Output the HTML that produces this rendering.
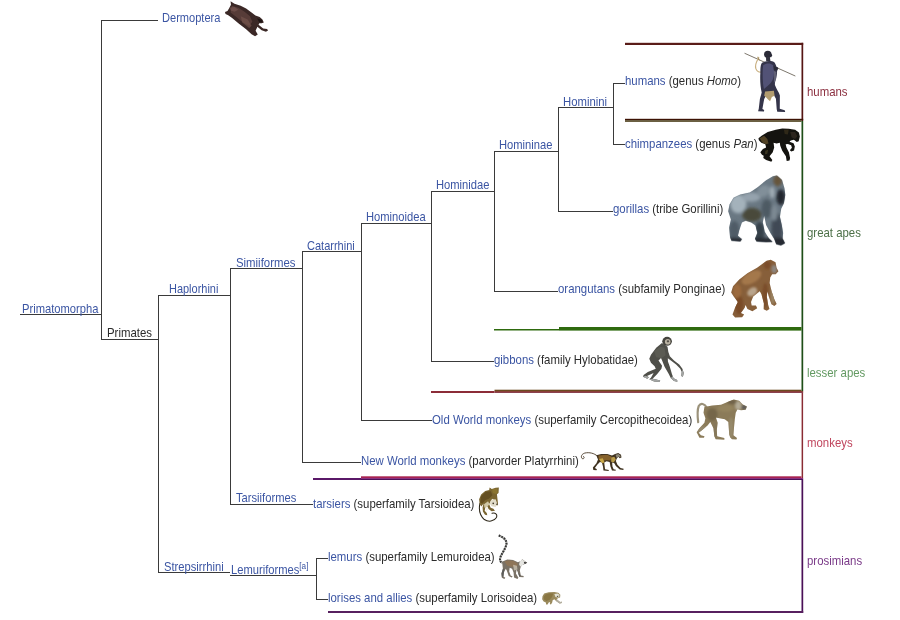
<!DOCTYPE html>
<html><head><meta charset="utf-8"><title>Primate cladogram</title>
<style>
html,body{margin:0;padding:0;background:#fff;}
#c{position:relative;width:900px;height:620px;overflow:hidden;background:#fff;font-family:"Liberation Sans",Arial,sans-serif;font-size:13px;color:#2b2b2b;}
.h,.v,.r{position:absolute;background:#3a3a3a;}
.h{height:1px}.v{width:1px}
.t{position:absolute;white-space:nowrap;line-height:14px;height:14px;transform:scaleX(0.877);transform-origin:0 0;}
.t a{color:#3b55a3;text-decoration:none}
.t sup{font-size:9.5px;line-height:0;vertical-align:5px}
svg{position:absolute;overflow:visible}
</style></head><body><div id="c">

<div class="h" style="left:101px;top:20px;width:57px"></div>
<div class="h" style="left:20px;top:314px;width:82px"></div>
<div class="h" style="left:101px;top:339px;width:58px"></div>
<div class="h" style="left:158px;top:295px;width:73px"></div>
<div class="h" style="left:230px;top:268px;width:72px"></div>
<div class="h" style="left:302px;top:251px;width:60px"></div>
<div class="h" style="left:361px;top:223px;width:71px"></div>
<div class="h" style="left:431px;top:191px;width:64px"></div>
<div class="h" style="left:494px;top:151px;width:65px"></div>
<div class="h" style="left:558px;top:107px;width:56px"></div>
<div class="h" style="left:613px;top:83px;width:12px"></div>
<div class="h" style="left:613px;top:144px;width:12px"></div>
<div class="h" style="left:558px;top:211px;width:55px"></div>
<div class="h" style="left:494px;top:291px;width:64px"></div>
<div class="h" style="left:431px;top:361px;width:63px"></div>
<div class="h" style="left:361px;top:420px;width:71px"></div>
<div class="h" style="left:302px;top:462px;width:59px"></div>
<div class="h" style="left:230px;top:504px;width:83px"></div>
<div class="h" style="left:158px;top:572px;width:72px"></div>
<div class="h" style="left:230px;top:575px;width:87px"></div>
<div class="h" style="left:316px;top:558px;width:12px"></div>
<div class="h" style="left:316px;top:599px;width:12px"></div>
<div class="v" style="left:101px;top:20px;height:320px"></div>
<div class="v" style="left:158px;top:295px;height:278px"></div>
<div class="v" style="left:230px;top:268px;height:237px"></div>
<div class="v" style="left:302px;top:251px;height:212px"></div>
<div class="v" style="left:361px;top:223px;height:198px"></div>
<div class="v" style="left:431px;top:191px;height:171px"></div>
<div class="v" style="left:494px;top:151px;height:141px"></div>
<div class="v" style="left:558px;top:107px;height:105px"></div>
<div class="v" style="left:613px;top:83px;height:62px"></div>
<div class="v" style="left:316px;top:558px;height:42px"></div>
<svg style="left:0;top:0" width="900" height="620" viewBox="0 0 900 620">
<rect x="625" y="42.8" width="178.2" height="2.2" fill="#5a1c18"/>
<rect x="801.5" y="42.8" width="1.7" height="78.2" fill="#561614"/>
<rect x="625" y="118.8" width="178.2" height="1.5" fill="#3c1204"/>
<rect x="625" y="120.3" width="176.5" height="1.5" fill="#483a14"/>
<rect x="801.5" y="121" width="1.7" height="270" fill="#1f4f18"/>
<rect x="494" y="329" width="65" height="1.5" fill="#2e6a0e"/>
<rect x="559" y="327" width="242.5" height="3.6" fill="#2e6a0e"/>
<rect x="494.5" y="389.7" width="307" height="1.3" fill="#6a4a20"/>
<rect x="431" y="391" width="63.5" height="2" fill="#8c2c38"/>
<rect x="494.5" y="391" width="308.7" height="1" fill="#8a4038"/>
<rect x="494.5" y="392" width="308.7" height="0.9" fill="#7e2c3a"/>
<rect x="801.6" y="393" width="1.5" height="85" fill="#8a2c34"/>
<rect x="361" y="476.3" width="440.5" height="1.7" fill="#a82452"/>
<rect x="313" y="478" width="48" height="2" fill="#5a1868"/>
<rect x="361" y="478" width="442.2" height="1" fill="#8a3080"/>
<rect x="361" y="479" width="442.2" height="1" fill="#4a1058"/>
<rect x="801.5" y="480" width="1.7" height="133" fill="#4a1058"/>
<rect x="328" y="611" width="475.2" height="2" fill="#57205f"/>
</svg>
<div class="t" style="left:162px;top:11px;transform:scaleX(0.851)"><a>Dermoptera</a></div>
<div class="t" style="left:22px;top:302px;transform:scaleX(0.86)"><a>Primatomorpha</a></div>
<div class="t" style="left:107px;top:326px;transform:scaleX(0.877)">Primates</div>
<div class="t" style="left:169px;top:282px;transform:scaleX(0.843)"><a>Haplorhini</a></div>
<div class="t" style="left:236px;top:256px;transform:scaleX(0.875)"><a>Simiiformes</a></div>
<div class="t" style="left:307px;top:239px;transform:scaleX(0.847)"><a>Catarrhini</a></div>
<div class="t" style="left:366px;top:210px;transform:scaleX(0.86)"><a>Hominoidea</a></div>
<div class="t" style="left:436px;top:178px;transform:scaleX(0.86)"><a>Hominidae</a></div>
<div class="t" style="left:499px;top:138px;transform:scaleX(0.86)"><a>Homininae</a></div>
<div class="t" style="left:563px;top:95px;transform:scaleX(0.87)"><a>Hominini</a></div>
<div class="t" style="left:236px;top:491px;transform:scaleX(0.86)"><a>Tarsiiformes</a></div>
<div class="t" style="left:164px;top:560px;transform:scaleX(0.86)"><a>Strepsirrhini</a></div>
<div class="t" style="left:231px;top:563px;transform:scaleX(0.86)"><a>Lemuriformes<sup>[a]</sup></a></div>
<div class="t" style="left:625px;top:74px"><a>humans</a> (genus <i>Homo</i>)</div>
<div class="t" style="left:625px;top:137px"><a>chimpanzees</a> (genus <i>Pan</i>)</div>
<div class="t" style="left:613px;top:202px"><a>gorillas</a> (tribe Gorillini)</div>
<div class="t" style="left:558px;top:282px"><a>orangutans</a> (subfamily Ponginae)</div>
<div class="t" style="left:494px;top:353px"><a>gibbons</a> (family Hylobatidae)</div>
<div class="t" style="left:432px;top:413px"><a>Old World monkeys</a> (superfamily Cercopithecoidea)</div>
<div class="t" style="left:361px;top:454px"><a>New World monkeys</a> (parvorder Platyrrhini)</div>
<div class="t" style="left:313px;top:497px"><a>tarsiers</a> (superfamily Tarsioidea)</div>
<div class="t" style="left:328px;top:550px"><a>lemurs</a> (superfamily Lemuroidea)</div>
<div class="t" style="left:328px;top:591px"><a>lorises and allies</a> (superfamily Lorisoidea)</div>
<div class="t" style="left:807px;top:85px;color:#8c3040">humans</div>
<div class="t" style="left:807px;top:226px;color:#4d7048">great apes</div>
<div class="t" style="left:807px;top:366px;color:#639a62">lesser apes</div>
<div class="t" style="left:807px;top:436px;color:#c0465e">monkeys</div>
<div class="t" style="left:807px;top:554px;color:#7a3a88">prosimians</div>
<svg style="left:215px;top:0px" width="70" height="45" viewBox="0 0 900 579">
<path d="M200,15 L250,48 L330,75 L400,108 L470,160 L520,200 L575,218 L610,250 L628,290 L600,300 L570,298 L560,320 L620,368 L670,372 L682,392 L655,408 L600,388 L545,345 L522,395 L550,445 L515,468 L470,440 L400,375 L300,300 L220,230 L170,195 L135,180 L128,155 L160,140 L180,110 L205,62 Z" fill="#3b2826"/>
<path d="M215,75 L300,100 L380,150 L450,210 L480,280 L440,330 L360,290 L270,215 L200,160 Z" fill="#5d403c" opacity="0.85"/>
<path d="M330,210 L420,250 L470,330 L440,360 L350,290 Z" fill="#7a5850" opacity="0.6"/>
<path d="M190,95 L250,90 L300,125 L250,150 L200,135 Z" fill="#7d5a55" opacity="0.6"/>
<path d="M540,235 L600,255 L612,285 L570,285 Z" fill="#1e1514"/>
</svg>
<svg style="left:740px;top:46px" width="60" height="70" viewBox="0 0 531 620">
<defs><filter id="b2" x="-20%" y="-20%" width="140%" height="140%"><feGaussianBlur stdDeviation="7"/></filter></defs>
<path d="M40,64 L490,266" stroke="#5a5246" stroke-width="7" fill="none"/>
<path d="M168,100 C150,130 128,160 140,200 C150,228 175,238 192,228" stroke="#c9b081" stroke-width="10" fill="none"/>
<path d="M156,96 L172,128" stroke="#a89060" stroke-width="9"/>
<ellipse cx="246" cy="74" rx="33" ry="33" fill="#2b2b38"/>
<path d="M268,60 L286,82 L276,100 L262,98 Z" fill="#2b2b38"/>
<path d="M230,98 L264,98 L270,135 L232,135 Z" fill="#32323f"/>
<path d="M190,155 C210,130 282,124 306,146 C326,176 334,215 324,268 C320,300 304,322 310,348 C322,384 346,410 353,438 L352,556 L396,568 L400,584 L330,583 L325,560 L318,468 L296,428 L264,412 L236,430 L214,470 L198,558 L214,566 L212,581 L160,579 L166,555 L176,470 L192,412 C180,360 176,300 180,240 C180,200 180,180 190,155 Z" fill="#34344a"/>
<g filter="url(#b2)">
<path d="M205,170 C235,150 270,150 292,170 C305,210 305,250 290,300 C270,340 240,360 212,380 C200,320 196,235 205,170 Z" fill="#55557a" opacity="0.9"/>
<path d="M300,220 L322,230 L318,300 L300,330 Z" fill="#6a6a80" opacity="0.8"/>
</g>
<path d="M222,402 L300,396 L306,440 L282,452 L266,490 L246,472 L232,456 L214,440 Z" fill="#b29c70"/>
<path d="M298,178 L338,190 L333,216 L298,210 Z" fill="#2a2a38"/>
</svg>
<svg style="left:750px;top:120px" width="60" height="50" viewBox="0 0 744 620">
<defs><filter id="b3" x="-10%" y="-10%" width="120%" height="120%"><feGaussianBlur stdDeviation="5"/></filter></defs>
<path d="M105,225 L140,198 L220,150 L320,120 L400,104 L480,108 L560,122 L606,155 L618,205 L604,262 L580,272 L545,245 L505,255 L490,270 L540,288 L556,330 L546,378 L512,392 L494,376 L520,345 L510,312 L470,297 L442,302 L452,340 L482,400 L497,470 L490,502 L455,507 L445,450 L400,380 L375,320 L370,282 L330,292 L292,282 L300,340 L282,400 L242,450 L277,495 L265,517 L200,497 L165,470 L170,442 L148,430 L128,400 L160,360 L200,340 L190,300 L140,282 L110,252 Z" fill="#14130f"/>
<path d="M120,225 L175,195 L215,235 L230,290 L195,300 L150,275 Z" fill="#5e4e2c" opacity="0.8" filter="url(#b3)"/>
<path d="M420,120 L480,118 L470,180 L430,175 Z" fill="#3a301c" opacity="0.7" filter="url(#b3)"/>
<path d="M500,150 L560,150 L585,200 L560,235 L515,215 Z" fill="#332c20" opacity="0.8" filter="url(#b3)"/>
<path d="M190,380 L225,370 L215,420 L185,425 Z" fill="#4a4228" opacity="0.7" filter="url(#b3)"/>
</svg>
<svg style="left:720px;top:168px" width="90" height="84" viewBox="0 0 664 620">
<defs><filter id="b4" x="-20%" y="-20%" width="140%" height="140%"><feGaussianBlur stdDeviation="10"/></filter>
<clipPath id="c4"><path d="M420,55 L458,88 L476,150 L482,200 L472,260 L452,300 L442,360 L456,420 L466,480 L462,520 L480,555 L450,572 L415,562 L400,522 L372,480 L340,420 L326,352 L316,400 L330,470 L362,520 L388,546 L340,547 L270,542 L258,522 L276,480 L262,425 L230,402 L190,390 L162,402 L142,460 L132,500 L162,525 L150,542 L85,537 L74,510 L68,440 L80,380 L60,320 L70,270 L100,220 L150,195 L220,180 L280,140 L340,90 L390,60 Z"/></clipPath></defs>
<path d="M420,55 L458,88 L476,150 L482,200 L472,260 L452,300 L442,360 L456,420 L466,480 L462,520 L480,555 L450,572 L415,562 L400,522 L372,480 L340,420 L326,352 L316,400 L330,470 L362,520 L388,546 L340,547 L270,542 L258,522 L276,480 L262,425 L230,402 L190,390 L162,402 L142,460 L132,500 L162,525 L150,542 L85,537 L74,510 L68,440 L80,380 L60,320 L70,270 L100,220 L150,195 L220,180 L280,140 L340,90 L390,60 Z" fill="#6a7883"/>
<g clip-path="url(#c4)" filter="url(#b4)">
<ellipse cx="135" cy="265" rx="60" ry="70" fill="#a4b2bb"/>
<ellipse cx="230" cy="215" rx="70" ry="35" fill="#95a3ad"/>
<ellipse cx="320" cy="170" rx="50" ry="40" fill="#818f99" transform="rotate(-35 320 170)"/>
<ellipse cx="235" cy="345" rx="72" ry="52" fill="#4a4a3a"/>
<ellipse cx="425" cy="92" rx="32" ry="42" fill="#66543a"/>
<ellipse cx="448" cy="215" rx="33" ry="58" fill="#23272f"/>
<ellipse cx="385" cy="180" rx="18" ry="45" fill="#a2aeb6"/>
<ellipse cx="105" cy="460" rx="38" ry="70" fill="#4f5c66"/>
<ellipse cx="292" cy="470" rx="38" ry="75" fill="#364049"/>
<ellipse cx="420" cy="450" rx="42" ry="120" fill="#3f4a54"/>
<ellipse cx="345" cy="300" rx="40" ry="70" fill="#4e5a64"/>
<ellipse cx="400" cy="330" rx="25" ry="60" fill="#7d8993"/>
<rect x="60" y="515" width="430" height="70" fill="#262b31"/>
</g>
</svg>
<svg style="left:720px;top:250px" width="90" height="85" viewBox="0 0 656 620">
<defs><filter id="b5" x="-20%" y="-20%" width="140%" height="140%"><feGaussianBlur stdDeviation="9"/></filter>
<clipPath id="c5"><path d="M370,72 L405,90 L412,130 L426,155 L406,176 L380,176 L366,200 L362,240 L376,300 L396,360 L413,394 L396,409 L375,396 L356,340 L346,300 L341,340 L351,400 L361,430 L341,443 L318,433 L320,390 L302,322 L290,300 L242,340 L226,380 L231,404 L262,404 L271,425 L236,446 L200,431 L186,402 L180,422 L152,460 L176,470 L161,491 L110,493 L91,470 L110,420 L130,380 L100,340 L81,310 L95,265 L140,215 L200,170 L270,130 L310,100 L340,78 Z"/></clipPath></defs>
<path d="M370,72 L405,90 L412,130 L426,155 L406,176 L380,176 L366,200 L362,240 L376,300 L396,360 L413,394 L396,409 L375,396 L356,340 L346,300 L341,340 L351,400 L361,430 L341,443 L318,433 L320,390 L302,322 L290,300 L242,340 L226,380 L231,404 L262,404 L271,425 L236,446 L200,431 L186,402 L180,422 L152,460 L176,470 L161,491 L110,493 L91,470 L110,420 L130,380 L100,340 L81,310 L95,265 L140,215 L200,170 L270,130 L310,100 L340,78 Z" fill="#875f3a"/>
<g clip-path="url(#c5)" filter="url(#b5)">
<ellipse cx="230" cy="200" rx="80" ry="40" fill="#a4784c" transform="rotate(-30 230 200)"/>
<ellipse cx="235" cy="305" rx="40" ry="28" fill="#b9a48c" transform="rotate(-35 235 305)"/>
<ellipse cx="395" cy="140" rx="20" ry="30" fill="#8d8680"/>
<ellipse cx="140" cy="400" rx="30" ry="70" fill="#7a4c28"/>
<ellipse cx="330" cy="330" rx="22" ry="90" fill="#7a4e2a"/>
<ellipse cx="385" cy="330" rx="18" ry="70" fill="#9a8464"/>
<ellipse cx="345" cy="110" rx="25" ry="30" fill="#7c4e2a"/>
<ellipse cx="125" cy="300" rx="30" ry="50" fill="#9c6a3c"/>
</g>
</svg>
<svg style="left:630px;top:330px" width="70" height="65" viewBox="0 0 668 620">
<path d="M305,125 L250,170 L200,235 L184,275 L200,312 L235,345 L246,370 L170,400 L130,430 L124,446 L165,466 L180,450 L162,440 L225,410 L200,455 L184,470 L230,491 L285,497 L288,482 L240,470 L216,465 L260,420 L300,370 L306,340 L272,290 L296,266 L310,300 L330,350 L370,420 L390,460 L420,486 L452,494 L450,478 L416,460 L400,420 L380,350 L362,300 L361,270 L390,290 L440,330 L480,370 L494,400 L489,440 L505,446 L513,410 L500,370 L470,330 L420,290 L380,250 L366,210 L358,160 L342,148 Z" fill="#4f4f49"/>
<path d="M124,446 L165,466 L180,450 L150,436 Z M184,470 L230,491 L285,497 L288,482 L240,470 L216,465 Z M390,460 L420,486 L452,494 L450,478 L416,460 L405,440 Z M489,440 L505,446 L513,410 L500,380 L492,400 Z" fill="#a3a5a4"/>
<ellipse cx="354" cy="108" rx="46" ry="43" fill="#45443e"/>
<ellipse cx="360" cy="112" rx="27" ry="27" fill="#b9b2a2"/>
<ellipse cx="362" cy="108" rx="12" ry="10" fill="#55504a"/>
<path d="M230,200 L290,160 L330,170 L340,240 L300,270 L250,260 Z" fill="#5e5e56" opacity="0.8"/>
</svg>
<svg style="left:685px;top:392px" width="80" height="56" viewBox="0 0 886 620">
<defs><filter id="b7" x="-20%" y="-20%" width="140%" height="140%"><feGaussianBlur stdDeviation="10"/></filter>
<clipPath id="c7"><path d="M215,165 L300,150 L400,140 L470,110 L540,84 L600,98 L640,138 L686,160 L672,196 L620,202 L582,192 L562,230 L552,300 L542,400 L536,480 L576,510 L570,526 L520,523 L500,500 L490,470 L480,332 L440,302 L380,292 L342,282 L362,340 L352,420 L356,490 L436,510 L436,528 L340,523 L325,490 L315,400 L280,332 L250,370 L190,420 L152,450 L176,480 L216,490 L210,506 L160,506 L129,445 L160,400 L215,340 L226,290 L205,230 Z"/></clipPath></defs>
<path d="M240,170 C215,130 175,115 152,155 C135,200 138,270 146,335" stroke="#9b927b" stroke-width="24" fill="none" stroke-linecap="round"/>
<path d="M215,165 L300,150 L400,140 L470,110 L540,84 L600,98 L640,138 L686,160 L672,196 L620,202 L582,192 L562,230 L552,300 L542,400 L536,480 L576,510 L570,526 L520,523 L500,500 L490,470 L480,332 L440,302 L380,292 L342,282 L362,340 L352,420 L356,490 L436,510 L436,528 L340,523 L325,490 L315,400 L280,332 L250,370 L190,420 L152,450 L176,480 L216,490 L210,506 L160,506 L129,445 L160,400 L215,340 L226,290 L205,230 Z" fill="#8b7b59"/>
<g clip-path="url(#c7)" filter="url(#b7)">
<ellipse cx="590" cy="150" rx="35" ry="50" fill="#b4ac98"/>
<ellipse cx="655" cy="170" rx="30" ry="25" fill="#5c5a58"/>
<ellipse cx="300" cy="250" rx="60" ry="70" fill="#75664a"/>
<ellipse cx="450" cy="180" rx="90" ry="40" fill="#94845e"/>
<ellipse cx="510" cy="400" rx="25" ry="120" fill="#978a6c"/>
<ellipse cx="335" cy="420" rx="22" ry="100" fill="#85775a"/>
<ellipse cx="190" cy="420" rx="50" ry="40" fill="#968a6e"/>
<ellipse cx="520" cy="110" rx="50" ry="25" fill="#6f6248"/>
</g>
</svg>
<svg style="left:570px;top:440px" width="70" height="45" viewBox="0 0 900 579">
<path d="M350,205 C310,170 250,155 190,168 C150,180 135,215 155,238 C175,250 195,225 172,210" stroke="#3e2e1a" stroke-width="11" fill="none" stroke-linecap="round"/>
<path d="M340,195 L400,180 L480,180 L540,200 L580,180 L620,168 L656,190 L662,226 L640,236 L620,216 L600,240 L590,270 L610,320 L650,360 L690,370 L686,386 L640,381 L590,336 L570,300 L542,290 L546,340 L561,375 L590,384 L586,396 L540,391 L520,340 L510,282 L470,272 L440,290 L446,340 L451,375 L500,385 L496,398 L430,391 L424,340 L410,290 L385,282 L350,320 L320,360 L346,375 L341,389 L300,386 L294,355 L340,300 L360,250 L345,215 Z" fill="#3f3220"/>
<path d="M365,200 L480,190 L535,215 L520,265 L470,262 L400,270 L370,250 Z" fill="#86622c"/>
<path d="M375,245 L420,235 L445,285 L420,300 L395,280 Z" fill="#c8a848"/>
<path d="M530,225 L570,215 L590,250 L560,290 L530,280 Z" fill="#b89a48"/>
<path d="M585,190 L622,180 L648,198 L650,222 L625,212 L602,232 Z" fill="#8c8778"/>
</svg>
<svg style="left:465px;top:480px" width="50" height="50" viewBox="0 0 620 620">
<path d="M185,290 C170,360 185,440 240,490 C290,525 360,515 390,465 C405,425 375,400 335,412" stroke="#2c2618" stroke-width="13" fill="none" stroke-linecap="round"/>
<path d="M305,92 L332,112 L380,96 L420,94 L416,160 L396,176 L402,230 L410,300 L396,322 L376,262 L342,232 L320,260 L300,300 L318,345 L352,358 L372,381 L330,386 L292,360 L274,322 L252,340 L244,380 L270,410 L276,436 L248,431 L222,390 L218,340 L230,290 L204,330 L182,300 L175,240 L200,180 L250,135 L300,125 Z" fill="#7a6530"/>
<path d="M200,200 L260,145 L320,140 L340,190 L300,230 L250,250 L215,290 L190,280 Z" fill="#5e481c" opacity="0.75"/>
<path d="M335,115 L400,105 L405,160 L380,175 L345,160 Z" fill="#8a7430"/>
<path d="M325,245 L380,240 L402,300 L378,335 L330,325 L306,290 Z" fill="#e2dcc8"/>
<circle cx="350" cy="290" r="10" fill="#3a3020"/><circle cx="396" cy="300" r="9" fill="#3a3020"/>
<path d="M236,300 L286,262 L304,300 L262,345 L240,340 Z" fill="#d8d0b0" opacity="0.9"/>
<path d="M250,350 L275,335 L290,365 L262,390 Z" fill="#f4f0e4" opacity="0.9"/>
</svg>
<svg style="left:485px;top:528px" width="60" height="60" viewBox="0 0 620 620">
<path d="M142,78 C190,95 225,120 222,165 C215,210 175,260 160,300 C150,330 155,350 180,362" stroke="#b4b4b0" stroke-width="21" fill="none"/>
<path d="M142,78 C190,95 225,120 222,165 C215,210 175,260 160,300 C150,330 155,350 180,362" stroke="#333" stroke-width="21" fill="none" stroke-dasharray="17 12"/>
<path d="M175,350 L230,325 L290,330 L340,355 L370,340 L385,324 L410,340 L436,360 L400,376 L380,386 L366,410 L360,440 L370,490 L400,495 L398,509 L355,506 L340,460 L326,430 L320,470 L345,515 L335,526 L300,511 L295,460 L280,420 L255,410 L250,450 L265,490 L286,500 L275,511 L245,496 L225,440 L215,420 L195,460 L190,500 L210,515 L200,526 L174,515 L170,470 L185,420 L180,380 Z" fill="#7a7266"/>
<path d="M200,345 L240,332 L300,340 L340,370 L330,410 L280,400 L230,390 Z" fill="#8e7558"/>
<path d="M290,380 L330,390 L335,430 L300,440 Z" fill="#c8c0b0" opacity="0.8"/>
<path d="M360,345 L385,326 L408,342 L420,360 L385,385 L365,400 L352,375 Z" fill="#e6e6e2"/>
<path d="M400,348 L436,360 L410,372 Z" fill="#2e2e2e"/>
<path d="M170,470 L185,420 L200,420 L195,460 L190,500 L174,505 Z M340,460 L370,490 L355,500 Z" fill="#5c5c5a"/>
</svg>
<svg style="left:525px;top:580px" width="50" height="35" viewBox="0 0 886 620">
<path d="M310,290 L340,240 L420,215 L520,213 L590,228 L626,260 L622,310 L582,322 L562,340 L620,390 L656,384 L652,406 L615,417 L550,372 L520,342 L490,360 L482,400 L460,432 L440,426 L446,390 L420,400 L400,432 L374,432 L370,400 L330,380 L304,340 Z" fill="#9a8a5c"/>
<path d="M330,300 L360,255 L440,235 L500,240 L480,300 L440,350 L380,370 L340,350 Z" fill="#84703c" opacity="0.8"/>
<path d="M520,250 L580,238 L615,265 L612,305 L575,312 L540,300 Z" fill="#e4e2d4"/>
<circle cx="575" cy="290" r="12" fill="#4a4630"/><circle cx="605" cy="285" r="9" fill="#4a4630"/>
<path d="M562,340 L620,390 L656,384 L652,406 L615,417 L550,372 Z" fill="#b4b0a4"/>
</svg>

</div></body></html>
